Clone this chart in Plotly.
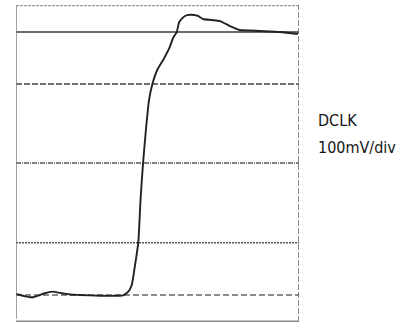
import plotly.graph_objects as go

# Time axis in divisions (0..10), voltage in mV
time_div = [0, 0.28, 0.57, 0.85, 1.02, 1.27, 1.63, 1.91, 2.26, 2.97, 3.50, 3.78, 3.96,
            4.09, 4.18, 4.32, 4.40, 4.49, 4.59, 4.70, 4.82, 4.99, 5.20, 5.42, 5.55,
            5.68, 5.77, 5.97, 6.15, 6.43, 6.61, 6.92, 7.21, 7.56, 7.92, 8.27, 8.62,
            9.33, 9.96]
dclk_mv = [1.3, -1.3, -2.9, 0, 2.2, 4.2, 2.2, 0.6, 0, -0.9, -1.0, -0.4, 3.8,
           12.7, 31.6, 66.2, 120.3, 167.1, 208.9, 246.8, 267.1, 284.8, 297.5, 312.7, 325.3,
           332.9, 345.6, 353.2, 354.8, 353.2, 349.4, 348.1, 346.8, 340.5, 335.4, 334.8, 334.2,
           332.9, 330.4]

grid_levels = [332.9, 267.1, 167.1, 66.2, 0.0]
grid_dash = ["solid", "6px,2px", "5px,1px,1px,1px", "2px,1px", "6px,3px"]
grid_color = ["#3a3a3a", "#444444", "#555555", "#555555", "#666666"]

x_range = [0, 10]
y_range = [-34.2, 367.1]

label_title = "DCLK"
label_scale = "100mV/div"

FONT = "DejaVu Sans Condensed, Liberation Sans Narrow, Liberation Sans, sans-serif"

fig = go.Figure()
fig.add_trace(go.Scatter(x=time_div, y=dclk_mv, mode="lines",
                         line=dict(color="#222222", width=1.9, shape="spline", smoothing=0.6),
                         hoverinfo="skip", showlegend=False))

shapes = []
for lvl, d, c in zip(grid_levels, grid_dash, grid_color):
    shapes.append(dict(type="line", xref="x", yref="y", x0=x_range[0], x1=x_range[1],
                       y0=lvl, y1=lvl, line=dict(color=c, width=1.4, dash=d), layer="below"))
# frame
shapes.append(dict(type="line", xref="x", yref="y", x0=x_range[0], x1=x_range[1],
                   y0=y_range[1] - 0.8, y1=y_range[1] - 0.8,
                   line=dict(color="#9a9a9a", width=1.2, dash="3px,1px")))
shapes.append(dict(type="line", xref="x", yref="y", x0=x_range[0], x1=x_range[0],
                   y0=-30, y1=y_range[1] - 0.8, line=dict(color="#777777", width=1.4)))
shapes.append(dict(type="line", xref="x", yref="y", x0=x_range[1], x1=x_range[1],
                   y0=y_range[0], y1=y_range[1] - 0.8,
                   line=dict(color="#555555", width=1.4, dash="6px,2px")))
shapes.append(dict(type="line", xref="x", yref="y", x0=x_range[0], x1=x_range[1],
                   y0=y_range[0] + 0.6, y1=y_range[0] + 0.6,
                   line=dict(color="#8a8a8a", width=2)))

fig.update_layout(
    width=401, height=324,
    margin=dict(l=16, r=102, t=5, b=2),
    paper_bgcolor="white", plot_bgcolor="white",
    shapes=shapes,
    xaxis=dict(range=x_range, visible=False, showgrid=False, zeroline=False),
    yaxis=dict(range=y_range, visible=False, showgrid=False, zeroline=False),
    annotations=[
        dict(text=label_title, xref="paper", yref="y", x=1.059, y=221.5, xanchor="left",
             yanchor="middle", showarrow=False,
             font=dict(family=FONT, size=16, color="#161616")),
        dict(text=label_scale, xref="paper", yref="y", x=1.059, y=187.3, xanchor="left",
             yanchor="middle", showarrow=False,
             font=dict(family=FONT, size=16, color="#161616")),
    ],
)

fig.write_html("out.html")
